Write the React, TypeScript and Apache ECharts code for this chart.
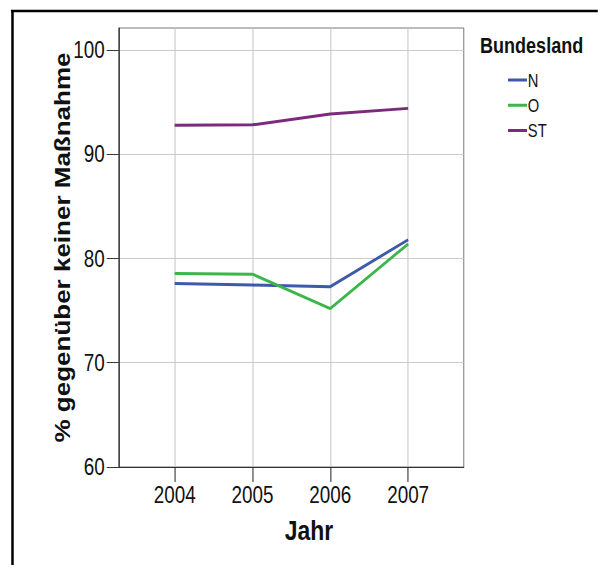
import React, { useEffect, useRef } from "react";
import * as echarts from "echarts";

const years = [2004, 2005, 2006, 2007];
const seriesNames = ["N", "O", "ST"];
const valuesN = [77.6, 77.45, 77.3, 81.8];
const valuesO = [78.55, 78.5, 75.2, 81.4];
const valuesST = [92.78, 92.82, 93.85, 94.4];
const yTicks = [60, 70, 80, 90, 100];
const colors = ["#3E58AC", "#3CB54A", "#7B2A7D"];

const FONT = '"Liberation Sans", Arial, Helvetica, sans-serif';
// the reference is horizontally condensed; render wider and squeeze with CSS
const SX = 0.82;
const W = 598 / SX;
const H = 565;
const px = (v: number) => v / SX;

export default function App() {
  const ref = useRef<HTMLDivElement>(null);
  useEffect(() => {
    if (!ref.current) return;
    const chart = echarts.init(ref.current, undefined, { renderer: "svg" });
    const allValues = [valuesN, valuesO, valuesST];
    const series: any[] = seriesNames.map((name, i) => ({
      name,
      type: "line",
      data: years.map((y, j) => [y, allValues[i][j]]),
      showSymbol: false,
      symbol: "none",
      lineStyle: { width: 3, color: colors[i] },
      itemStyle: { color: colors[i] },
      z: 3,
    }));
    series.push({
      name: "grid",
      type: "line",
      data: [],
      silent: true,
      z: 1,
      markLine: {
        silent: true,
        symbol: "none",
        z: 1,
        label: { show: false },
        lineStyle: { color: "#c4c4c4", type: "solid", width: 1 / SX },
        data: years.map((y) => ({ xAxis: y })),
      },
    });
    chart.setOption({
      animation: false,
      backgroundColor: "#ffffff",
      grid: {
        left: px(118.7),
        right: W - px(464),
        top: 28,
        bottom: 98,
        show: true,
        borderColor: "#6a6a6a",
        borderWidth: 1,
      },
      xAxis: {
        type: "value",
        min: 2003.281,
        max: 2007.715,
        splitLine: { show: false },
        axisLine: { show: true, onZero: false, lineStyle: { color: "#222", width: 1 } },
        axisTick: { show: true, customValues: years, length: 15, lineStyle: { color: "#222", width: 1 / SX } },
        axisLabel: {
          customValues: years,
          formatter: (v: number) => String(v),
          fontFamily: FONT,
          fontSize: 23,
          color: "#111",
          margin: 16,
        },
        name: "Jahr",
        nameLocation: "middle",
        nameGap: 49,
        nameTextStyle: {
          fontFamily: FONT,
          fontWeight: "bold",
          fontSize: 28,
          color: "#111",
          padding: [0, 0, 0, 43],
        },
      },
      yAxis: {
        type: "value",
        min: 60,
        max: 102.11,
        interval: 10,
        splitLine: { show: true, lineStyle: { color: "#c4c4c4", width: 1 } },
        axisLine: { show: true, lineStyle: { color: "#222", width: 1 / SX } },
        axisTick: { show: true, customValues: yTicks, length: px(12), lineStyle: { color: "#222" } },
        axisLabel: {
          customValues: yTicks,
          formatter: (v: number) => String(v),
          fontFamily: FONT,
          fontSize: 23,
          color: "#111",
          margin: px(14),
        },
      },
      title: {
        text: "Bundesland",
        left: px(480),
        top: 34,
        textStyle: { fontFamily: FONT, fontWeight: "bold", fontSize: 22, color: "#111" },
        padding: 0,
      },
      legend: {
        data: seriesNames,
        orient: "vertical",
        left: px(508),
        top: 71,
        itemWidth: px(19),
        itemHeight: 3,
        itemGap: 7.3,
        icon: "rect",
        padding: 0,
        textStyle: { fontFamily: FONT, fontSize: 18, color: "#111", padding: [0, 0, 0, -4] },
      },
      graphic: [
        {
          type: "text",
          x: px(62.5),
          y: 247.5,
          rotation: Math.PI / 2,
          style: {
            text: "% gegenüber keiner Maßnahme",
            fontFamily: FONT,
            fontWeight: "bold",
            fontSize: 26,
            fill: "#111",
            align: "center",
            verticalAlign: "middle",
          },
        },
        {
          type: "line",
          shape: { x1: px(11), y1: 11, x2: W, y2: 11 },
          style: { stroke: "#000", lineWidth: 2.5 },
        },
        {
          type: "line",
          shape: { x1: px(12.5), y1: 10, x2: px(12.5), y2: H },
          style: { stroke: "#000", lineWidth: px(2.5) },
        },
      ],
      series,
    });
    return () => chart.dispose();
  }, []);
  return (
    <div style={{ position: "absolute", left: 0, top: 0, width: 598, height: H, overflow: "hidden", background: "#fff" }}>
      <div
        ref={ref}
        style={{ width: W, height: H, transform: `scaleX(${SX})`, transformOrigin: "0 0" }}
      />
    </div>
  );
}
